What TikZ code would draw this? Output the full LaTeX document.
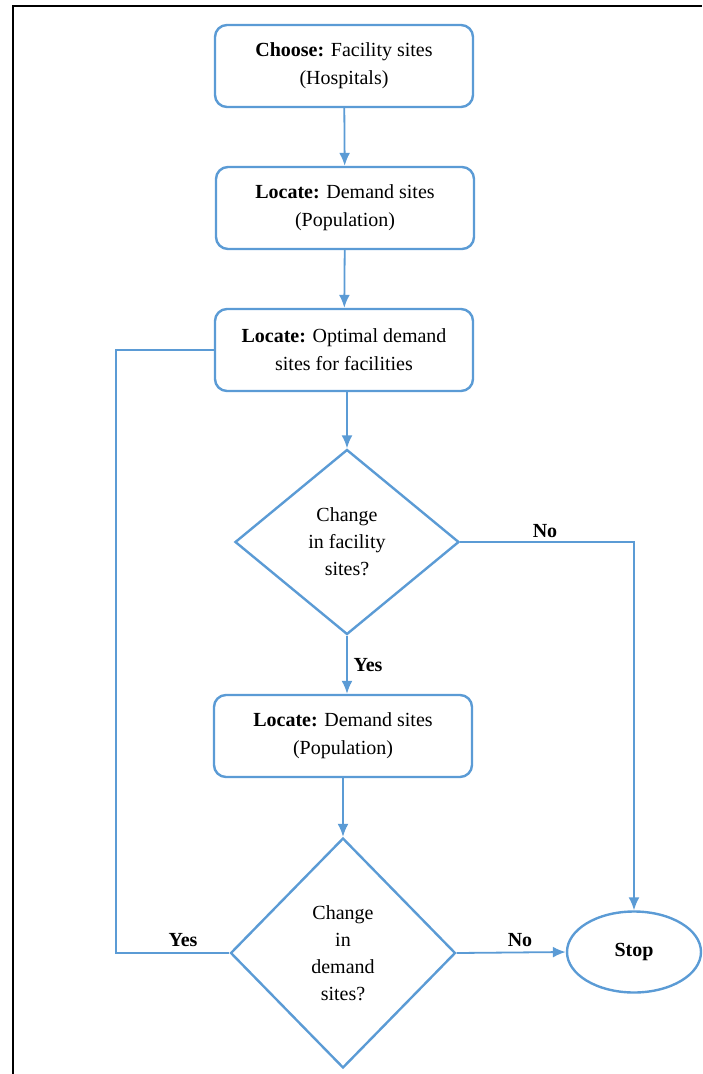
\documentclass[tikz,border=0pt]{standalone}
\usepackage{fontspec}
\setmainfont{Liberation Serif}
\usetikzlibrary{shapes.geometric,arrows.meta}
\definecolor{fblue}{RGB}{91,155,213}
\begin{document}
\begin{tikzpicture}[x=1pt,y=-1pt,
  box/.style={draw=fblue, line width=2.4pt, rounded corners=12pt, minimum width=258pt, minimum height=82pt, align=center, inner sep=0pt, font=\fontsize{20}{28}\selectfont},
  dia/.style={diamond, draw=fblue, line width=2.4pt, align=center, inner sep=0pt, font=\fontsize{20}{27}\selectfont},
  conn/.style={draw=fblue, line width=1.8pt},
  arr/.style={conn, -{Latex[length=13pt,width=11pt]}},
  lab/.style={font=\bfseries\fontsize{20}{24}\selectfont}]
\useasboundingbox (0,0) rectangle (702,1074);
\draw[black, line width=2.5pt] (13,1074) -- (13,6) -- (702,6);

\node[box] (b1) at (344,66) {\textbf{Choose:} Facility sites\\(Hospitals)};
\node[box] (b2) at (345,208) {\textbf{Locate:} Demand sites\\(Population)};
\node[box] (b3) at (344,350) {\textbf{Locate:} Optimal demand\\sites for facilities};
\node[dia, minimum width=224pt, minimum height=185pt] (d1) at (347,542) {Change\\in facility\\sites?};
\node[box] (b4) at (343,736) {\textbf{Locate:} Demand sites\\(Population)};
\node[dia, minimum width=225pt, minimum height=230pt] (d2) at (343,953) {Change\\in\\demand\\sites?};
\node[ellipse, draw=fblue, line width=2.4pt, minimum width=134pt, minimum height=81pt, inner sep=0pt, lab] (stop) at (634,952) {Stop};

\draw[arr] (b1) -- (b2);
\draw[arr] (b2) -- (b3);
\draw[arr] (b3.south -| d1.north) -- (d1.north);
\draw[arr] (d1.south) -- (d1.south |- b4.north);
\draw[arr] (b4.south -| d2.north) -- (d2.north);
\coordinate (nr) at (634,542);
\draw[arr] (d1.east) -- (nr) -- (stop.north);
\draw[arr] (d2.east) -- (stop.west);
\coordinate (lb) at (116,953);
\coordinate (lt) at (116,350);
\draw[conn] (d2.west) -- (lb) -- (lt) -- (b3.west);

\node[lab] (yes1) at (368,665) {Yes};
\node[lab] (no1) at (545,531) {No};
\node[lab] (yes2) at (183,940) {Yes};
\node[lab] (no2) at (520,940) {No};
\end{tikzpicture}
\end{document}
